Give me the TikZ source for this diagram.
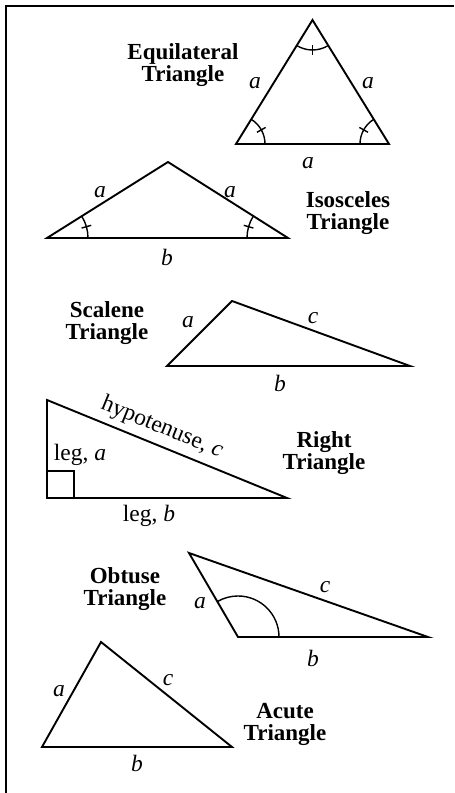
\documentclass[tikz,border=0pt]{standalone}
\usepackage{fontspec}
\setmainfont{Liberation Serif}

\begin{document}
\begin{tikzpicture}[
  x=1pt, y=1pt,
  lado/.style={line width=1.9pt, line join=miter},
  marca/.style={line width=1.4pt},
  titulo/.style={align=center, inner sep=0pt, font=\bfseries\fontsize{23}{22}\selectfont},
  rotulo/.style={inner sep=0pt, font=\fontsize{23.5}{23.5}\selectfont}
]
\useasboundingbox (0,0) rectangle (455,793);
\draw[line width=2pt] (6,0) -- (6,786.5) -- (454,786.5);

% equilateral
\coordinate (eqA) at (312.5,773);
\coordinate (eqB) at (236,649);
\coordinate (eqC) at (389,649);
\draw[lado] (eqA) -- (eqB) -- (eqC) -- cycle;
\draw[marca] ([shift={(238.3:30)}]eqA) arc (238.3:301.7:30);
\draw[marca] ([shift={(0:29)}]eqB) arc (0:58.3:29);
\draw[marca] ([shift={(121.7:29)}]eqC) arc (121.7:180:29);
\draw[marca, shift={(eqA)}] (270:25) -- (270:35);
\draw[marca, shift={(eqB)}] (29.2:24) -- (29.2:34);
\draw[marca, shift={(eqC)}] (150.8:24) -- (150.8:34);
\node[rotulo] (eqa1) at (255,710) {\textit{a}};
\node[rotulo] (eqa2) at (368,710) {\textit{a}};
\node[rotulo] (eqa3) at (308,630) {\textit{a}};
\node[titulo] (eqtit) at (183,728) {Equilateral\\Triangle};

% isosceles
\coordinate (isA) at (168,631);
\coordinate (isL) at (47,555);
\coordinate (isR) at (288,555);
\draw[lado] (isA) -- (isL) -- (isR) -- cycle;
\draw[marca] ([shift={(0:41)}]isL) arc (0:32.1:41);
\draw[marca] ([shift={(147.7:41)}]isR) arc (147.7:180:41);
\draw[marca, shift={(isL)}] (16:36) -- (16:46);
\draw[marca, shift={(isR)}] (164:36) -- (164:46);
\node[rotulo] (isa1) at (100,601) {\textit{a}};
\node[rotulo] (isa2) at (230,601) {\textit{a}};
\node[rotulo] (isb) at (167,536) {\textit{b}};
\node[titulo] (istit) at (348,580) {Isosceles\\Triangle};

% scalene
\coordinate (scA) at (232,492);
\coordinate (scL) at (167,427);
\coordinate (scR) at (410,427);
\draw[lado] (scA) -- (scL) -- (scR) -- cycle;
\node[rotulo] (sca) at (188,471) {\textit{a}};
\node[rotulo] (scc) at (313,475) {\textit{c}};
\node[rotulo] (scb) at (280,410) {\textit{b}};
\node[titulo] (sctit) at (107,469.5) {Scalene\\Triangle};

% right
\coordinate (riT) at (47,393);
\coordinate (riO) at (47,295);
\coordinate (riR) at (287,295);
\draw[lado] (riT) -- (riO) -- (riR) -- cycle;
\draw[marca] (47,322) -- (74,322) -- (74,295);
\node[rotulo] (ria) at (80,338) {leg, \textit{a}};
\node[rotulo] (rib) at (149,277) {leg, \textit{b}};
\node[rotulo, rotate=-22.2] (ric) at (162,365) {hypotenuse, \textit{c}};
\node[titulo] (ritit) at (324,340) {Right\\Triangle};

% obtuse
\coordinate (obT) at (189,240);
\coordinate (obL) at (238,156);
\coordinate (obR) at (428,156);
\draw[lado] (obT) -- (obL) -- (obR) -- cycle;
\draw[marca] ([shift={(0:41)}]obL) arc (0:120.3:41);
\node[rotulo] (oba) at (200,190) {\textit{a}};
\node[rotulo] (obc) at (325,206) {\textit{c}};
\node[rotulo] (obb) at (313,135) {\textit{b}};
\node[titulo] (obtit) at (125,204) {Obtuse\\Triangle};

% acute
\coordinate (acA) at (101,151);
\coordinate (acL) at (42,46);
\coordinate (acR) at (232,46);
\draw[lado] (acA) -- (acL) -- (acR) -- cycle;
\node[rotulo] (aca) at (59,102) {\textit{a}};
\node[rotulo] (acc) at (168,113) {\textit{c}};
\node[rotulo] (acb) at (137,30) {\textit{b}};
\node[titulo] (actit) at (285,68.5) {Acute\\Triangle};
\end{tikzpicture}
\end{document}
